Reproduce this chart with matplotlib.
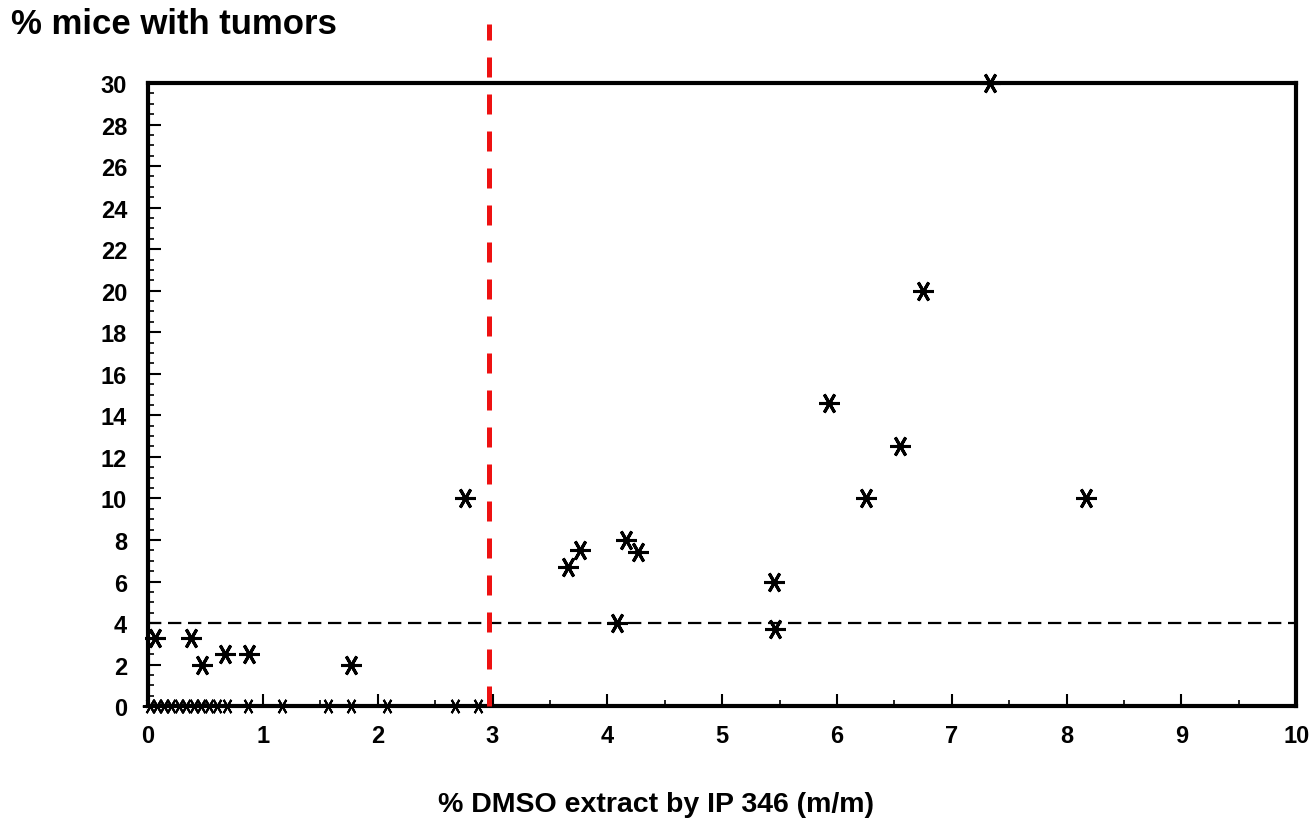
import matplotlib
matplotlib.use("Agg")
import matplotlib.pyplot as plt
from matplotlib.ticker import MultipleLocator

# Data: % DMSO extract (x) vs % mice with tumors (y)
x_pos = [0.06, 0.37, 0.47, 0.67, 0.88, 1.77, 2.76, 3.66, 3.76, 4.08, 4.16, 4.27,
         5.45, 5.46, 5.93, 6.25, 6.55, 6.75, 7.33, 8.17]
y_pos = [3.3, 3.3, 2.0, 2.5, 2.5, 2.0, 10.0, 6.7, 7.5, 4.0, 8.0, 7.4,
         6.0, 3.7, 14.6, 10.0, 12.5, 20.0, 30.0, 10.0]
x_zero = [0.02, 0.08, 0.14, 0.2, 0.27, 0.33, 0.4, 0.46, 0.53, 0.6, 0.69, 0.87,
          1.17, 1.57, 1.77, 2.08, 2.67, 2.87]
y_zero = [0.0] * len(x_zero)
threshold_y = 4.0
cutoff_x = 2.97
x_ticks = list(range(0, 11))
y_ticks = list(range(0, 31, 2))

plt.rcParams['font.family'] = ['Liberation Sans', 'DejaVu Sans']

fig = plt.figure(figsize=(13.16, 8.29), dpi=100)
ax = fig.add_axes([0.1125, 0.147, 0.8725, 0.7517])

ax.set_xlim(0, 10)
ax.set_ylim(0, 30)

mk = dict(marker=(6, 2, 90), linestyle='none', color='black', markersize=15,
          markeredgewidth=2.2, clip_on=False, zorder=4)
ax.plot(x_pos, y_pos, **mk)
ax.plot(x_zero, y_zero, **dict(mk, markersize=11, markeredgewidth=1.5))

ax.axhline(threshold_y, color='black', lw=1.6, dashes=(6, 3), zorder=2)
ax.plot([cutoff_x, cutoff_x], [0, 32.85], color='#ee1111', lw=3.6,
        dashes=(4, 3.4), clip_on=False, zorder=5)

for s in ax.spines.values():
    s.set_linewidth(3)

ax.set_xticks(x_ticks)
ax.set_yticks(y_ticks)
ax.xaxis.set_minor_locator(MultipleLocator(0.5))
ax.yaxis.set_minor_locator(MultipleLocator(0.5))
ax.tick_params(which='major', direction='in', length=9, width=1.5,
               labelsize=17)
ax.tick_params(axis='x', which='major', pad=13)
ax.tick_params(axis='y', which='major', pad=15)
ax.tick_params(which='minor', direction='in', length=4, width=1.2)
for lab in ax.get_xticklabels() + ax.get_yticklabels():
    lab.set_fontweight('bold')

fig.text(0.008, 0.970, '% mice with tumors', fontsize=25, fontweight='bold',
         ha='left', va='center')
fig.text(0.4985, 0.029, '% DMSO extract by IP 346 (m/m)', fontsize=20.5,
         fontweight='bold', ha='center', va='center')

fig.savefig('out.png', dpi=100, facecolor='white')
